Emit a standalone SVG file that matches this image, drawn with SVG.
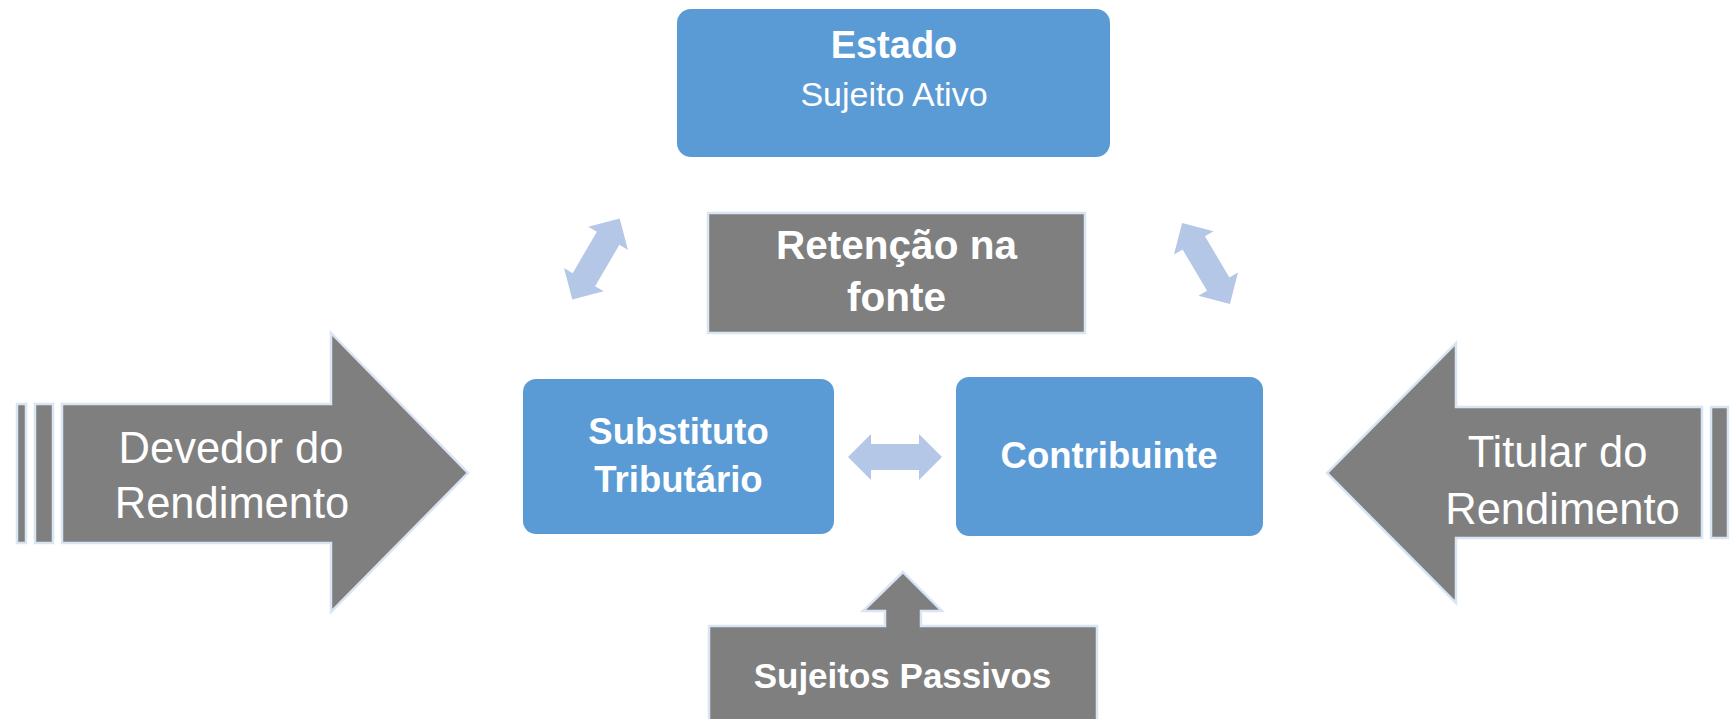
<svg xmlns="http://www.w3.org/2000/svg" width="1730" height="719" viewBox="0 0 1730 719">
<defs>
<style>
.blue{fill:#5B9BD5;}
.gray{fill:#7F7F7F;stroke:#DAE5F4;stroke-width:2.5;stroke-linejoin:miter;}
.conn{fill:#B4C7E7;}
text{font-family:"Liberation Sans",Arial,sans-serif;fill:#FFFFFF;text-anchor:middle;}
.b{font-weight:bold;}
</style>
<path id="dbl" d="M-47,0 L-24,-23 L-24,-13 L24,-13 L24,-23 L47,0 L24,23 L24,13 L-24,13 L-24,23 Z"/>
</defs>
<rect width="1730" height="719" fill="#FFFFFF"/>

<g id="estado">
<rect class="blue" x="677" y="9" width="433" height="148" rx="14"/>
<text class="b" x="894" y="58" font-size="38">Estado</text>
<text x="894" y="106" font-size="34">Sujeito Ativo</text>
</g>

<g id="retencao">
<rect class="gray" x="708" y="213" width="377" height="120"/>
<text class="b" x="896.5" y="259" font-size="40.5">Retenção na</text>
<text class="b" x="896.5" y="311" font-size="40.5">fonte</text>
</g>

<g id="substituto">
<rect class="blue" x="523" y="379" width="311" height="155" rx="13"/>
<text class="b" x="678.5" y="444" font-size="36.5">Substituto</text>
<text class="b" x="678.5" y="492" font-size="36.5">Tributário</text>
</g>

<g id="contribuinte">
<rect class="blue" x="956" y="377" width="307" height="159" rx="13"/>
<text class="b" x="1109" y="468" font-size="36.5">Contribuinte</text>
</g>

<g id="devedor">
<rect class="gray" x="17" y="404" width="9" height="139"/>
<rect class="gray" x="35" y="404" width="18" height="139"/>
<path class="gray" d="M62,404 L331,404 L331,333 L468,473 L331,612 L331,543 L62,543 Z"/>
<text x="231" y="463" font-size="43.5">Devedor do</text>
<text x="232" y="518" font-size="43.5">Rendimento</text>
</g>

<g id="titular">
<rect class="gray" x="1711" y="407" width="17" height="131"/>
<path class="gray" d="M1702,407 L1456,407 L1456,343 L1327,473 L1456,603 L1456,538 L1702,538 Z"/>
<text x="1557.5" y="467" font-size="43.5">Titular do</text>
<text x="1562.5" y="524" font-size="43.5">Rendimento</text>
</g>

<g id="sujeitos-passivos">
<path class="gray" d="M709,626 L885,626 L885,611 L863,611 L903,572 L942,611 L921,611 L921,626 L1097,626 L1097,740 L709,740 Z"/>
<text class="b" x="902.5" y="688" font-size="35">Sujeitos Passivos</text>
</g>

<g id="connectors">
<use href="#dbl" class="conn" transform="translate(596,259) rotate(-59.7)"/>
<use href="#dbl" class="conn" transform="translate(1206,263.5) rotate(59.4)"/>
<use href="#dbl" class="conn" transform="translate(895,457)"/>
</g>
</svg>
